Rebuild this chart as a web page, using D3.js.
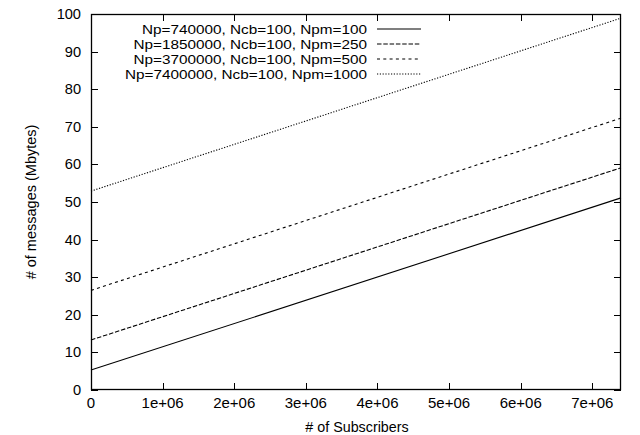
<!DOCTYPE html>
<html><head><meta charset="utf-8">
<script src="https://cdn.jsdelivr.net/npm/d3@7"></script>
<style>
body{margin:0;background:#fff;}
text{font-family:"Liberation Sans",Arial,sans-serif;font-size:14px;fill:#000;}
</style></head>
<body><svg id="c" width="640" height="435"></svg>
<script>
const seriesNames = ["Np=740000, Ncb=100, Npm=100","Np=1850000, Ncb=100, Npm=250","Np=3700000, Ncb=100, Npm=500","Np=7400000, Ncb=100, Npm=1000"];
const subscribers = [0, 7400000];
const s740k = [5.3, 51.1];
const s1850k = [13.3, 59.1];
const s3700k = [26.5, 72.3];
const s7400k = [52.9, 98.9];
const xTicks = [0,1e6,2e6,3e6,4e6,5e6,6e6,7e6];
const xTickLabels = ["0","1e+06","2e+06","3e+06","4e+06","5e+06","6e+06","7e+06"];
const yTicks = [0,10,20,30,40,50,60,70,80,90,100];
const dashes = [null, "4.5,1.8", "3,3.3", "1.2,1.6"];
const allSeries = [s740k, s1850k, s3700k, s7400k];

const svg = d3.select("#c");
const L=91, R=621, T=14, B=390;
const x = d3.scaleLinear().domain([0,7400000]).range([L,R]);
const y = d3.scaleLinear().domain([0,100]).range([B,T]);

// ticks (inward, mirrored)
const tl = 7;
const g = svg.append("g").attr("stroke","#000").attr("stroke-width",1);
xTicks.forEach(t=>{
  const px = Math.round(x(t))+0.5;
  g.append("line").attr("x1",px).attr("x2",px).attr("y1",B).attr("y2",B-tl);
  g.append("line").attr("x1",px).attr("x2",px).attr("y1",T).attr("y2",T+tl);
});
yTicks.forEach(t=>{
  const py = Math.round(y(t))+0.5;
  g.append("line").attr("x1",L).attr("x2",L+tl).attr("y1",py).attr("y2",py);
  g.append("line").attr("x1",R).attr("x2",R-tl).attr("y1",py).attr("y2",py);
});
// tick labels
xTicks.forEach((t,i)=>{
  svg.append("text").attr("x",x(t)).attr("y",B+18).attr("text-anchor","middle")
    .style("font-size","15px").text(xTickLabels[i]);
});
yTicks.forEach(t=>{
  svg.append("text").attr("x",L-10).attr("y",y(t)+5).attr("text-anchor","end")
    .style("font-size","14.6px").text(t);
});

// lines
const line = d3.line().x((d,i)=>x(subscribers[i])).y(d=>y(d));
allSeries.forEach((s,i)=>{
  const p = svg.append("path").datum(s).attr("d",line).attr("fill","none").attr("stroke","#000").attr("stroke-width",1.1);
  if(dashes[i]) p.attr("stroke-dasharray",dashes[i]);
});

// frame
svg.append("rect").attr("x",L+0.5).attr("y",T+0.5).attr("width",R-L-1).attr("height",B-T-1)
  .attr("fill","none").attr("stroke","#000").attr("stroke-width",1.3);

// legend (wide glyphs, compact rows)
seriesNames.forEach((n,i)=>{
  const ly = 29 + i*15;
  const t = svg.append("text").attr("x",367).attr("y",ly+4.8).attr("text-anchor","end")
    .style("font-size","13px").text(n);
  const w = t.node().getComputedTextLength();
  t.attr("textLength", w*15.3/13).attr("lengthAdjust","spacingAndGlyphs");
  const l = svg.append("line").attr("x1",377).attr("x2",421).attr("y1",ly).attr("y2",ly)
    .attr("stroke","#000").attr("stroke-width",1.1);
  if(dashes[i]) l.attr("stroke-dasharray",dashes[i]);
});

// axis titles
svg.append("text").attr("x",(L+R)/2+1).attr("y",432).attr("text-anchor","middle")
  .style("font-size","14.3px").text("# of Subscribers");
svg.append("text").attr("transform",`translate(36,${(T+B)/2}) rotate(-90)`).attr("text-anchor","middle")
  .style("font-size","14.5px").text("# of messages (Mbytes)");
</script></body></html>
